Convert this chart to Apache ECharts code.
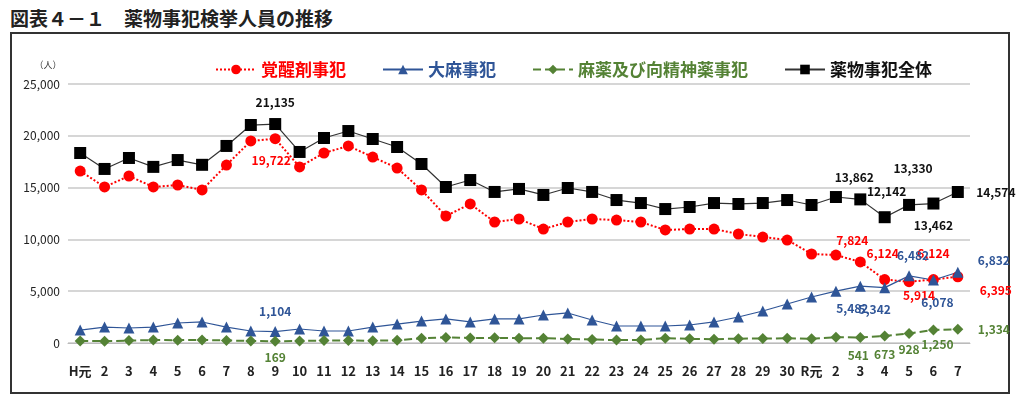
<!DOCTYPE html>
<html><head><meta charset="utf-8">
<script src="https://cdn.jsdelivr.net/npm/echarts@6/dist/echarts.min.js"></script>
<style>body{margin:0;background:#fff}
#title{position:absolute;left:10px;top:4px;font:bold 19px "Noto Sans CJK JP";color:#222}
#box{position:absolute;left:10px;top:32px;width:1000px;height:362px;border:2px solid #333;box-sizing:border-box}
#echart{position:absolute;left:0;top:0;width:1024px;height:405px}</style>
</head><body>
<div id="title">図表４－１　薬物事犯検挙人員の推移</div>
<div id="box"></div>
<div id="echart"></div>
<script>
var categories = ['H元','2','3','4','5','6','7','8','9','10','11','12','13','14','15','16','17','18','19','20','21','22','23','24','25','26','27','28','29','30','R元','2','3','4','5','6','7'];
var stimulants = [16600,15060,16120,15060,15250,14770,17180,19500,19722,16990,18340,19020,17950,16890,14770,12260,13420,11680,11970,11000,11680,11970,11870,11680,10910,11000,11000,10520,10230,9940,8590,8490,7824,6124,5914,6124,6395];
var cannabis = [1250,1540,1450,1540,1930,2030,1540,1160,1104,1350,1160,1160,1540,1830,2120,2320,2030,2320,2320,2700,2900,2220,1640,1640,1640,1740,2030,2510,3090,3760,4440,5000,5482,5342,6482,6078,6832];
var narcotics = [200,180,230,290,270,300,240,200,169,200,230,240,220,260,460,540,480,500,460,470,390,340,280,300,460,400,370,420,430,460,410,550,541,673,928,1250,1334];
var total = [18340,16800,17860,17000,17660,17200,19020,21040,21135,18440,19790,20460,19690,18920,17280,15060,15730,14580,14870,14290,14960,14580,13800,13510,12930,13130,13510,13420,13510,13800,13320,14090,13862,12142,13330,13462,14574];

var fmt = function (v) { return v.toLocaleString('en-US'); };
// spec: index -> [dx, dy] label offset from the point
function withLabels(values, color, spec) {
  return values.map(function (v, i) {
    if (!spec[i]) return v;
    return { value: v, label: { show: true, position: 'inside', offset: spec[i], color: color, fontWeight: 'bold', fontSize: 12, formatter: fmt(v) } };
  });
}
var myChart = echarts.init(document.getElementById('echart'));
myChart.setOption({
  textStyle: { fontFamily: 'Noto Sans CJK JP' },
  grid: { left: 68, right: 54, top: 84, bottom: 62 },
  legend: {
    top: 56, left: 210, itemGap: 36, itemWidth: 40, itemHeight: 12,
    textStyle: { fontSize: 17, fontWeight: 'bold' },
    data: [
      { name: '覚醒剤事犯', textStyle: { color: '#ff0000' } },
      { name: '大麻事犯', textStyle: { color: '#2f5597' } },
      { name: '麻薬及び向精神薬事犯', textStyle: { color: '#548235' } },
      { name: '薬物事犯全体', textStyle: { color: '#111' } }
    ]
  },
  xAxis: {
    type: 'category', data: categories, boundaryGap: true,
    axisLine: { lineStyle: { color: '#bbb' } }, axisTick: { show: false },
    axisLabel: { color: '#222', fontWeight: 'bold', fontSize: 13, interval: 0, margin: 22 }
  },
  yAxis: {
    type: 'value', min: 0, max: 25000, interval: 5000, name: '（人）',
    nameTextStyle: { fontSize: 9, color: '#333', padding: [0, 40, 0, 0] },
    axisLabel: { color: '#222', fontSize: 12, formatter: fmt },
    splitLine: { lineStyle: { color: '#c8c8c8', width: 1.5 } }
  },
  series: [
    { name: '覚醒剤事犯', type: 'line', symbol: 'circle', symbolSize: 11,
      itemStyle: { color: '#ff0000' }, lineStyle: { type: 'dotted', width: 2 },
      data: withLabels(stimulants, '#ff0000', { 8: [-4, 22], 32: [-8, -22], 33: [-2, -26], 34: [10, 14], 35: [0, -26], 36: [38, 14] }) },
    { name: '大麻事犯', type: 'line', symbol: 'triangle', symbolSize: 11,
      itemStyle: { color: '#2f5597' }, lineStyle: { width: 1.2 },
      data: withLabels(cannabis, '#2f5597', { 8: [0, -20], 32: [-8, 22], 33: [-10, 22], 34: [4, -20], 35: [4, 22], 36: [36, -12] }) },
    { name: '麻薬及び向精神薬事犯', type: 'line', symbol: 'diamond', symbolSize: 11,
      itemStyle: { color: '#548235' }, lineStyle: { type: 'dashed', width: 2 },
      data: withLabels(narcotics, '#548235', { 8: [0, 16], 32: [-2, 18], 33: [0, 18], 34: [0, 16], 35: [4, 14], 36: [36, 0] }) },
    { name: '薬物事犯全体', type: 'line', symbol: 'rect', symbolSize: 12,
      itemStyle: { color: '#000' }, lineStyle: { color: '#333', width: 1.2 },
      data: withLabels(total, '#111', { 8: [0, -22], 32: [-6, -22], 33: [2, -26], 34: [4, -36], 35: [0, 22], 36: [38, 0] }) }
  ]
});
</script>
</body></html>
